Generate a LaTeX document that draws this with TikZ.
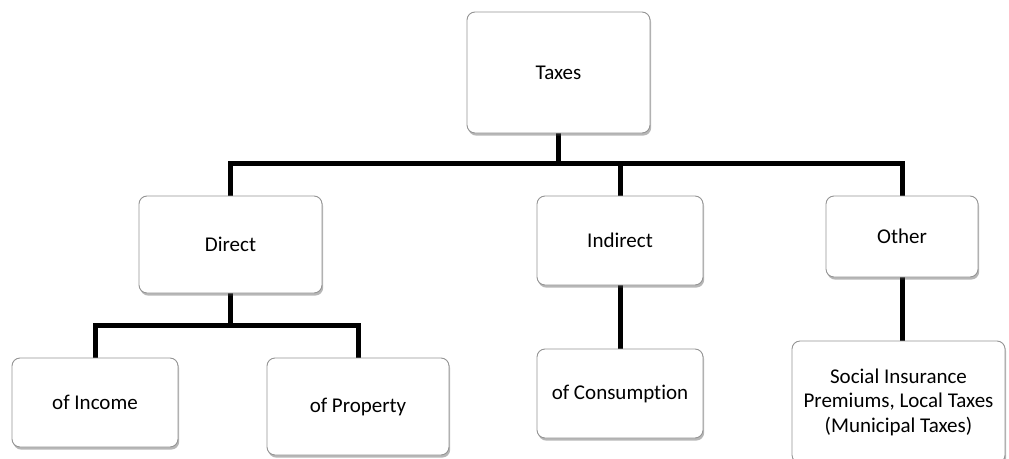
\documentclass[tikz,border=0pt]{standalone}
\usepackage{fontspec}
\setmainfont{Carlito}[Ligatures=NoCommon]
\usetikzlibrary{shadows,backgrounds}
\tikzset{
  box/.style={draw=black!42, line width=0.9pt, fill=white, rounded corners=8pt,
    align=center, inner sep=0pt, font=\fontsize{21}{24.5}\selectfont,
    drop shadow={shadow xshift=1.2pt, shadow yshift=-2.6pt, opacity=0.4, fill=black!70}},
  conn/.style={draw=black, line width=5pt}
}
\begin{document}
\begin{tikzpicture}[x=1pt,y=1pt]
\useasboundingbox (0,0) rectangle (1009,-458);
\node[box, minimum width=183, minimum height=121] (taxes) at (558.5,-72.5) {Taxes};
\node[box, minimum width=183, minimum height=97] (direct) at (230.5,-244.5) {Direct};
\node[box, minimum width=166, minimum height=89] (indirect) at (620,-240.5) {Indirect};
\node[box, minimum width=152, minimum height=81] (other) at (902,-236.5) {Other};
\node[box, minimum width=166, minimum height=89] (income) at (95,-402.5) {of Income};
\node[box, minimum width=182, minimum height=97] (property) at (358,-406.5) {of Property};
\node[box, minimum width=166, minimum height=89] (consumption) at (620,-393.5) {of Consumption};
\node[box, minimum width=213, minimum height=122] (social) at (898.5,-402) {Social Insurance\\Premiums, Local Taxes\\(Municipal Taxes)};
\coordinate (bar1) at (558.5,-163);
\coordinate (bar2) at (230.5,-325);
\begin{scope}[on background layer]
\draw[conn] (taxes.south) -- (bar1);
\draw[conn] (direct.north) |- (bar1) -| (other.north);
\draw[conn] (indirect.north) -- (indirect.north |- bar1);
\draw[conn] (direct.south) -- (bar2);
\draw[conn] (income.north) |- (bar2) -| (property.north);
\draw[conn] (indirect.south) -- (consumption.north);
\draw[conn] (other.south) -- (other.south |- social.north);
\end{scope}
\end{tikzpicture}
\end{document}
